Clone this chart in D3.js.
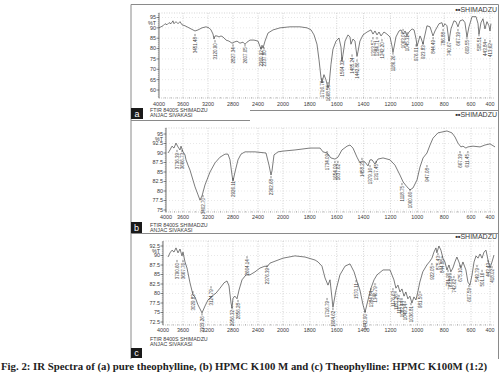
<!doctype html>
<html lang="en">
<head>
<meta charset="UTF-8">
<title>IR spectra</title>
<script src="https://d3js.org/d3.v7.min.js"></script>
<style>body{margin:0;background:#fff}</style>
</head>
<body>
<div id="myDiv"></div>
<script type="text/javascript">

// tick labels
let xTicks = [4000,3600,3200,2800,2400,2000,1800,1600,1400,1200,1000,800,600,400];
let yTicksA = [95,90,85,80,75,70,65,60];
let yTicksB = [95,92.5,90,87.5,85,82.5,80,77.5,75];
let yTicksC = [92.5,90,87.5,85,82.5,80,77.5,75,72.5];

// (a) pure theophylline : [wavenumber, %T]
let spectrumA = [[4000,90],[3967,90.5],[3933,91],[3900,92],[3867,91.5],[3833,92.5],[3800,92],[3767,93.4],[3750,92],[3717,93],[3683,92],[3650,93],[3617,91.5],[3568,91],[3504,90],[3440,89],[3408,88.5],[3360,89],[3296,90],[3232,90.5],[3184,90],[3152,89],[3120,87],[3104,84.6],[3088,86.1],[3056,86.1],[3024,85.6],[2992,86.1],[2960,85.6],[2912,84.1],[2864,83.6],[2816,82.6],[2784,83.1],[2736,83.6],[2688,82.6],[2640,83.1],[2608,82.1],[2576,83.1],[2528,84.1],[2464,84.1],[2400,83.6],[2368,81],[2352,79.7],[2336,81.6],[2320,80.2],[2288,83.6],[2240,87.5],[2160,89],[2048,90],[1948,90.5],[1873,90.5],[1821,90],[1791,89],[1769,86.6],[1747,82.1],[1732,74.7],[1717,65.9],[1710,63.4],[1695,67.4],[1680,64.9],[1665,61],[1657,62.4],[1643,72.3],[1628,79.7],[1605,83.6],[1583,85.1],[1568,80.7],[1561,73.8],[1553,77.2],[1538,83.6],[1516,86.6],[1501,85.6],[1494,82.1],[1479,84.6],[1464,83.6],[1449,76.2],[1441,78.7],[1427,83.6],[1404,86.6],[1374,88],[1345,89],[1330,87],[1315,88.5],[1300,86.6],[1285,88],[1270,86.1],[1248,88],[1226,87],[1203,85.6],[1188,81.1],[1181,78.2],[1173,80.7],[1159,85.6],[1136,88.5],[1121,89],[1106,87],[1091,88.5],[1077,86.1],[1062,88],[1039,89.5],[1024,89],[1009,84.6],[1002,81.1],[995,82.6],[980,86.1],[972,85.1],[957,82.1],[950,84.6],[928,91],[905,90.5],[883,86.1],[868,88.5],[838,92],[816,92.5],[808,90.5],[794,92],[779,91],[764,83.6],[749,89.5],[727,93.4],[712,93],[697,90.5],[682,93.4],[660,93.9],[645,92.5],[630,85.6],[615,90.5],[589,95.4],[547,95.4],[526,92],[516,87],[495,92.5],[474,94.4],[453,89.5],[432,93],[411,91],[400,88.5],[390,92]];
// peak labels : [wavenumber, %T at label top, text]
let peaksA = [[3408,86.1,"3451.48"],[3088,83.1,"3120.90"],[2800,81.1,"2827.34"],[2608,81.1,"2607.05"],[2352,79.7,"2360.92"],[2304,79.7,"2337.80"],[1710,64.9,"1716.76"],[1665,62.9,"1668.55"],[1561,74.8,"1564.32"],[1486,76.2,"1485.24"],[1449,73.8,"1442.86"],[1330,84.6,"1313.57"],[1300,84.6,"1284.71"],[1263,83.6,"1242.20"],[1181,77.2,"1186.26"],[1106,88.5,"1063.07"],[1076,87,"1045.31"],[1009,81.1,"976.01"],[957,82.1,"923.83"],[882,84.6,"844.49"],[808,88.5,"786.88"],[763,83.6,"740.67"],[697,88.5,"667.39"],[630,84.6,"609.55"],[516,86.1,"505.51"],[453,83.6,"443.84"],[400,83.1,"413.62"]];

// (b) HPMC K100 M
let spectrumB = [[3953,90],[3906,90.8],[3859,91.8],[3812,91.3],[3765,92.6],[3718,91.6],[3671,90.8],[3647,91.8],[3600,90.3],[3568,89.5],[3552,88.2],[3520,86.8],[3488,85.5],[3408,81.1],[3360,79],[3328,77.6],[3296,78.7],[3248,81.6],[3168,85],[3088,87.4],[3008,88.9],[2928,89.7],[2880,89.7],[2848,88.2],[2816,84.2],[2800,82.6],[2768,85],[2720,88.2],[2672,89.7],[2608,90.3],[2448,90.3],[2272,90],[2224,86.8],[2192,84.2],[2176,85.3],[2144,89.5],[2080,90.3],[2000,90.5],[1911,90.8],[1799,91.3],[1724,91.3],[1702,90.3],[1672,90],[1643,88.7],[1613,88.4],[1591,88.9],[1561,90.8],[1523,91.8],[1501,92.1],[1479,91.3],[1449,88.9],[1427,87.4],[1404,87.9],[1389,87.6],[1367,86.6],[1352,88.2],[1337,88.2],[1315,87.1],[1293,88.4],[1255,88.7],[1203,88.2],[1166,86.8],[1129,84.2],[1106,82.4],[1077,81.1],[1054,80.3],[1032,80.8],[1002,82.9],[980,86.3],[957,88.7],[928,90],[905,92.1],[883,93.9],[846,95.3],[779,95.8],[742,95.3],[719,94.2],[697,92.6],[675,91.6],[660,91.8],[638,91.3],[623,91.6],[579,91.8],[505,91.6],[453,92.1],[400,92.4],[347,91.6]];
let peaksB = [[3741,90.3,"3736.39"],[3624,90.3,"3666.73"],[3280,78.4,"3402.70"],[2800,82.9,"2926.11"],[2192,83.4,"2362.68"],[1672,90,"1734.09"],[1613,87.4,"1654.09"],[1591,87.4,"1637.62"],[1412,88.2,"1458.27"],[1352,86.3,"1379.16"],[1307,87.4,"1317.45"],[1114,81.6,"1118.75"],[1054,80,"1060.66"],[928,86.3,"947.08"],[682,90,"667.39"],[623,90,"611.45"]];

// (c) Theophylline : HPMC K100M (1:2)
let spectrumC = [[3900,89.6],[3860,90.7],[3820,91.4],[3780,90.9],[3740,92],[3700,90.7],[3660,91.7],[3620,89.9],[3600,90.9],[3568,88.3],[3536,86.7],[3488,82.8],[3440,79.6],[3408,79.1],[3360,77],[3296,74.9],[3248,76.7],[3200,78.3],[3136,79.3],[3072,80.1],[3008,81.4],[2944,82.8],[2896,83.3],[2864,82],[2832,77.5],[2816,76.2],[2800,78.8],[2768,79.3],[2736,78.6],[2704,80.9],[2656,83.6],[2592,84.9],[2528,84.9],[2448,85.7],[2368,86.7],[2288,87.2],[2256,87],[2208,88],[2000,89.3],[1911,89.9],[1836,89.6],[1761,88.8],[1739,88.3],[1710,87.2],[1687,84.1],[1665,82.2],[1650,83.6],[1628,76.4],[1605,80.9],[1576,84.9],[1538,87.2],[1501,87.8],[1471,85.7],[1449,83.2],[1427,80.9],[1404,77],[1389,75.1],[1367,78.3],[1345,81.4],[1322,83.6],[1300,84.9],[1255,86.2],[1203,86.2],[1174,83.6],[1159,81.4],[1144,82.2],[1129,80.4],[1114,81.2],[1099,79.3],[1085,80.4],[1070,78.6],[1055,79.3],[1040,77.5],[1025,79.1],[1010,78.3],[996,80.4],[981,83],[959,85.7],[929,87.5],[906,88.5],[891,89.3],[876,90.9],[861,92],[854,90.7],[839,92.5],[824,91.4],[809,89.3],[794,88.3],[779,86.2],[764,87.5],[750,85.7],[735,86.7],[720,88.3],[705,89.6],[690,88.3],[675,86.7],[660,88.3],[638,86.2],[623,83],[608,82.2],[589,84.9],[568,88.3],[547,89.9],[526,89.3],[505,90.4],[484,89.3],[463,90.9],[442,91.4],[421,88.8],[400,86.7],[379,88.3],[358,90.1]];
let peaksC = [[3720,88.3,"3790.60"],[3600,88.3,"3667.76"],[3440,80.1,"3029.83"],[3296,74.3,"3303.26"],[3152,81.4,"3124.79"],[2816,75.9,"2956.32"],[2720,77.8,"2856.28"],[2576,89.3,"2664.14"],[2256,87,"2376.39"],[1672,78.3,"1716.79"],[1628,75.7,"1664.62"],[1456,83,"1570.11"],[1389,74.9,"1442.90"],[1345,80.9,"1384.84"],[1315,82.2,"1346.79"],[1181,80.9,"1176.63"],[1159,80.1,"1157.26"],[1136,79.1,"1107.33"],[1114,78.3,"1082.44"],[1091,77.5,"1049.14"],[1047,77,"1036.81"],[980,80.1,"981.50"],[891,87.5,"922.05"],[846,90.1,"875.43"],[816,89.3,"844.88"],[771,85.7,"781.30"],[750,84.9,"763.89"],[727,84.1,"742.62"],[682,87,"675.10"],[615,81.7,"607.59"],[537,87,"549.79"],[484,85.7,"501.16"],[421,88.3,"443.43"],[379,86.7,"418.02"]];

let caption = "Fig. 2: IR Spectra of (a) pure theophylline, (b) HPMC K100 M and (c) Theophylline: HPMC K100M (1:2)";

let font = "'Liberation Sans', Arial, sans-serif";
let ink = "#3a3a3a";

let svg = d3.select("#myDiv").append("svg")
    .attr("width", 500)
    .attr("height", 378);

// outer frame and separators
let frame = svg.append("g").attr("stroke", "#8a8a8a").attr("stroke-width", 1).attr("fill", "none");
frame.append("path").attr("d", "M131,359 V4.5 H498.5 V359");
frame.append("path").attr("d", "M131,120.5 H250 M250,110.5 H498.5");
frame.append("path").attr("d", "M131,233.5 H498.5");

function drawPanel(p) {
    let x = d3.scaleLinear()
        .domain([4000, 3600, 2000, 600, 400])
        .range([p.x0, 183, 283, 471, 490]);
    let y = d3.scaleLinear().domain(p.yDom).range(p.yRange);
    let g = svg.append("g");
    let right = 495;

    // dotted grid
    g.selectAll(".vgrid").data(xTicks.slice(1)).enter().append("line")
        .attr("x1", d => x(d)).attr("x2", d => x(d))
        .attr("y1", p.top).attr("y2", p.bottom)
        .attr("stroke", "#b5b5b5").attr("stroke-width", 0.6).attr("stroke-dasharray", "1,1.5");
    g.selectAll(".hgrid").data(p.yTicks).enter().append("line")
        .attr("x1", p.x0).attr("x2", right)
        .attr("y1", d => y(d)).attr("y2", d => y(d))
        .attr("stroke", "#d0d0d0").attr("stroke-width", 0.5).attr("stroke-dasharray", "1,2");
    g.append("line").attr("x1", p.x0).attr("x2", right).attr("y1", p.top).attr("y2", p.top)
        .attr("stroke", "#bbb").attr("stroke-width", 0.6).attr("stroke-dasharray", "1,1.5");

    // y axis
    g.append("line").attr("x1", p.x0).attr("x2", p.x0).attr("y1", p.top).attr("y2", p.bottom)
        .attr("stroke", "#555").attr("stroke-width", 0.8);
    g.selectAll(".ymin").data(d3.range(p.minor[0], p.minor[1], p.minor[2])).enter().append("line")
        .attr("x1", p.x0 - 1.2).attr("x2", p.x0)
        .attr("y1", d => y(d)).attr("y2", d => y(d))
        .attr("stroke", "#777").attr("stroke-width", 0.5);
    g.selectAll(".ytick").data(p.yTicks).enter().append("line")
        .attr("x1", p.x0 - 2.5).attr("x2", p.x0)
        .attr("y1", d => y(d)).attr("y2", d => y(d))
        .attr("stroke", "#555").attr("stroke-width", 0.7);
    g.selectAll(".ylab").data(p.yTicks).enter().append("text")
        .attr("x", p.x0 - 3).attr("y", d => y(d) + 1.9)
        .attr("text-anchor", "end").attr("font-family", font).attr("font-size", "5.4px")
        .attr("fill", ink).text(d => d);
    g.append("text")
        .attr("x", p.x0 - 3).attr("y", (y(p.yTicks[0]) + y(p.yTicks[1])) / 2 + 1.9)
        .attr("text-anchor", "end").attr("font-family", font).attr("font-size", "5.4px")
        .attr("fill", ink).text("%T");

    // x axis
    g.append("line").attr("x1", p.x0).attr("x2", right).attr("y1", p.bottom).attr("y2", p.bottom)
        .attr("stroke", "#aaa").attr("stroke-width", 0.6).attr("stroke-dasharray", "1,1");
    let minorX = d3.range(4000, 2000, -100).concat(d3.range(2000, 399, -50));
    g.selectAll(".xmin").data(minorX).enter().append("line")
        .attr("x1", d => x(d)).attr("x2", d => x(d))
        .attr("y1", p.bottom - 1).attr("y2", p.bottom + 0.5)
        .attr("stroke", "#888").attr("stroke-width", 0.5);
    g.selectAll(".xlab").data(xTicks).enter().append("text")
        .attr("x", d => x(d)).attr("y", p.xLabelY)
        .attr("text-anchor", "middle").attr("font-family", font).attr("font-size", "5.4px")
        .attr("fill", ink).text(d => d);

    // spectrum
    let line = d3.line().x(d => x(d[0])).y(d => y(d[1]));
    g.append("path").datum(p.data)
        .attr("d", line)
        .attr("fill", "none").attr("stroke", "#444").attr("stroke-width", 0.7)
        .attr("stroke-linejoin", "round");

    // peak labels, written upwards under each band
    let pk = g.selectAll(".peak").data(p.peaks).enter().append("g")
        .attr("transform", d => "translate(" + x(d[0]) + "," + y(d[1]) + ")");
    pk.append("line").attr("x1", 0).attr("x2", 0).attr("y1", -2).attr("y2", 0.3)
        .attr("stroke", "#333").attr("stroke-width", 0.6);
    pk.append("text")
        .attr("transform", "translate(0,1) rotate(-90)")
        .attr("dy", "0.35em")
        .attr("text-anchor", "end").attr("font-family", font).attr("font-size", "4.5px")
        .attr("fill", ink).text(d => d[2]);

    // instrument header and footer
    let sh = g.append("text").attr("x", 497).attr("y", p.shimY)
        .attr("text-anchor", "end").attr("font-family", font).attr("fill", ink);
    sh.append("tspan").attr("font-size", "4px").attr("font-weight", "bold").attr("dy", "-1.5").text("■■");
    sh.append("tspan").attr("font-size", "7px").attr("dy", "1.5").text("SHIMADZU");
    g.append("text").attr("x", 150).attr("y", p.ftirY)
        .attr("font-family", font).attr("font-size", "5.3px").attr("fill", ink)
        .text("FTIR 8400S SHIMADZU");
    g.append("text").attr("x", 150).attr("y", p.ftirY + 4.8)
        .attr("font-family", font).attr("font-size", "5.3px").attr("fill", ink)
        .text("ANJAC SIVAKASI");
    g.append("rect").attr("x", p.box[0]).attr("y", p.box[1]).attr("width", p.box[2]).attr("height", p.box[3])
        .attr("fill", "#1a1a1a");
    g.append("text").attr("x", p.box[0] + p.box[2] / 2).attr("y", p.box[1] + p.box[3] - 2)
        .attr("text-anchor", "middle").attr("font-family", font).attr("font-size", "9px")
        .attr("fill", "#fff").text(p.letter);
}

let panels = [
    {letter: "a", data: spectrumA, peaks: peaksA, yTicks: yTicksA, yDom: [60, 95], yRange: [90, 17.5],
     minor: [57, 98, 1], x0: 159, top: 13, bottom: 98, xLabelY: 105.5, shimY: 12, ftirY: 112, box: [131, 108, 12, 11]},
    {letter: "b", data: spectrumB, peaks: peaksB, yTicks: yTicksB, yDom: [75, 95], yRange: [210, 134],
     minor: [74.5, 97, 0.5], x0: 166, top: 128, bottom: 212, xLabelY: 218.5, shimY: 117, ftirY: 227, box: [131, 222, 11, 11]},
    {letter: "c", data: spectrumC, peaks: peaksC, yTicks: yTicksC, yDom: [72.5, 92.5], yRange: [322, 246],
     minor: [72, 94, 0.5], x0: 163, top: 241, bottom: 325, xLabelY: 331.5, shimY: 239, ftirY: 341, box: [131, 348, 11, 10]}
];
panels.forEach(drawPanel);

// figure caption
svg.append("text").attr("x", 1).attr("y", 369.5)
    .attr("font-family", "'Liberation Serif', 'Times New Roman', serif").attr("font-size", "10.3px")
    .attr("font-weight", "bold").attr("fill", "#222")
    .attr("textLength", 486).attr("lengthAdjust", "spacingAndGlyphs")
    .text(caption);

</script>
</body>
</html>
